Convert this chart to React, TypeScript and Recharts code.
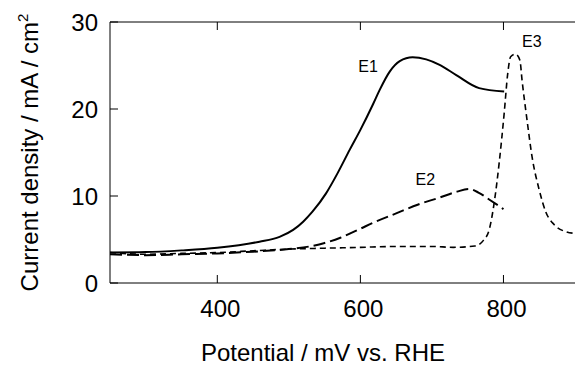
import React from 'react';
import { LineChart, Line, XAxis, YAxis, ReferenceDot } from 'recharts';

// E1 (solid)
const e1Potential = [250, 300, 350, 400, 430, 459, 487, 506, 520, 533, 552, 568, 585, 600, 618, 627, 641, 655, 673, 692, 710, 734, 766, 801];
const e1Current = [3.5, 3.55, 3.75, 4.05, 4.35, 4.75, 5.3, 6.1, 7.05, 8.2, 10.3, 12.6, 15.3, 17.6, 20.6, 22.2, 24.3, 25.5, 25.95, 25.7, 25.1, 23.9, 22.4, 22.0];

// E2 (long dash)
const e2Potential = [250, 300, 350, 400, 450, 500, 529, 550, 572, 599, 620, 650, 680, 710, 735, 752, 765, 780, 800];
const e2Current = [3.3, 3.2, 3.3, 3.4, 3.6, 3.9, 4.2, 4.6, 5.2, 6.2, 7.0, 8.0, 9.0, 9.8, 10.5, 10.8, 10.4, 9.6, 8.5];

// E3 (short dash)
const e3Potential = [250, 300, 350, 400, 450, 500, 550, 600, 650, 700, 730, 760, 772, 780, 787, 794, 801, 806, 810, 817, 823, 826, 833, 840, 850, 859, 871, 887, 900];
const e3Current = [3.5, 3.3, 3.4, 3.5, 3.7, 3.9, 4.0, 4.1, 4.2, 4.2, 4.1, 4.25, 4.9, 6.1, 9.2, 13.8, 19.5, 24.1, 26.0, 26.3, 25.6, 23.3, 18.7, 14.5, 10.7, 8.2, 6.7, 5.9, 5.7];

const xTicks = [400, 600, 800];
const yTicks = [0, 10, 20, 30];

const curveNames = ['E1', 'E2', 'E3'];
const namePotential = [597, 677, 826];
const nameCurrent = [24.9, 11.9, 27.8];

const toRows = (xs: number[], ys: number[]) => xs.map((x, i) => ({ x, y: ys[i] }));

const e1Data = toRows(e1Potential, e1Current);
const e2Data = toRows(e2Potential, e2Current);
const e3Data = toRows(e3Potential, e3Current);

const FONT = 'Liberation Sans, Arial, sans-serif';

const BottomTick = (props: any) => {
  const { x, y, payload } = props;
  return (
    <g>
      <line x1={x} y1={y} x2={x} y2={y - 8} stroke="#000" />
      <text x={x + 3} y={y + 34} textAnchor="middle" fontSize={24} fontFamily={FONT} fill="#000">
        {payload.value}
      </text>
    </g>
  );
};

const TopTick = (props: any) => {
  const { x, y } = props;
  return <line x1={x} y1={y} x2={x} y2={y + 8} stroke="#000" />;
};

const LeftTick = (props: any) => {
  const { x, y, payload } = props;
  return (
    <g>
      <line x1={x} y1={y} x2={x + 8} y2={y} stroke="#000" />
      <text x={x - 12} y={y} dy="0.36em" textAnchor="end" fontSize={24} fontFamily={FONT} fill="#000">
        {payload.value}
      </text>
    </g>
  );
};

const YTitle = (props: any) => {
  const vb = props.viewBox;
  const cx = vb.x + 38;
  const cy = vb.y + vb.height / 2;
  return (
    <text transform={`translate(${cx}, ${cy}) rotate(-90)`} textAnchor="middle" fontSize={24} fontFamily={FONT} fill="#000">
      Current density / mA / cm<tspan dy={-10} fontSize={15}>2</tspan>
    </text>
  );
};

const XTitle = () => (
  <text x={323} y={361} textAnchor="middle" fontSize={24} fontFamily={FONT} fill="#000">
    Potential / mV vs. RHE
  </text>
);

export default function App() {
  return (
    <div style={{ position: 'absolute', left: 0, top: 0 }}>
      <LineChart width={575} height={367} margin={{ top: 0, right: 0, bottom: 0, left: 0 }}>
        <XAxis
          xAxisId="top"
          orientation="top"
          type="number"
          dataKey="x"
          domain={[250, 900]}
          ticks={xTicks}
          height={22}
          tickSize={0}
          tickMargin={0}
          tickLine={false}
          tick={<TopTick />}
          interval={0}
          axisLine={{ stroke: '#000' }}
          allowDataOverflow
        />
        <XAxis
          xAxisId="bottom"
          type="number"
          dataKey="x"
          domain={[250, 900]}
          ticks={xTicks}
          height={84}
          tickSize={0}
          tickMargin={0}
          tickLine={false}
          tick={<BottomTick />}
          interval={0}
          axisLine={{ stroke: '#000' }}
          allowDataOverflow
          label={<XTitle />}
        />
        <YAxis
          yAxisId="left"
          type="number"
          domain={[0, 30]}
          ticks={yTicks}
          width={110}
          tickSize={0}
          tickMargin={0}
          tickLine={false}
          tick={<LeftTick />}
          interval={0}
          axisLine={{ stroke: '#000' }}
          allowDataOverflow
          label={<YTitle />}
        />
        <Line xAxisId="bottom" yAxisId="left" data={e1Data} dataKey="y" type="monotone" stroke="#000" strokeWidth={2} dot={false} isAnimationActive={false} />
        <Line xAxisId="bottom" yAxisId="left" data={e2Data} dataKey="y" type="monotone" stroke="#000" strokeWidth={2} strokeDasharray="12 5" dot={false} isAnimationActive={false} />
        <Line xAxisId="bottom" yAxisId="left" data={e3Data} dataKey="y" type="monotone" stroke="#000" strokeWidth={1.6} strokeDasharray="6 4" dot={false} isAnimationActive={false} />
        {curveNames.map((name, i) => (
          <ReferenceDot
            key={name}
            xAxisId="bottom"
            yAxisId="left"
            x={namePotential[i]}
            y={nameCurrent[i]}
            r={0}
            fill="none"
            stroke="none"
            label={{ value: name, position: 'right', offset: 0, fontSize: 16, fontFamily: FONT, fill: '#000' }}
          />
        ))}
      </LineChart>
    </div>
  );
}
